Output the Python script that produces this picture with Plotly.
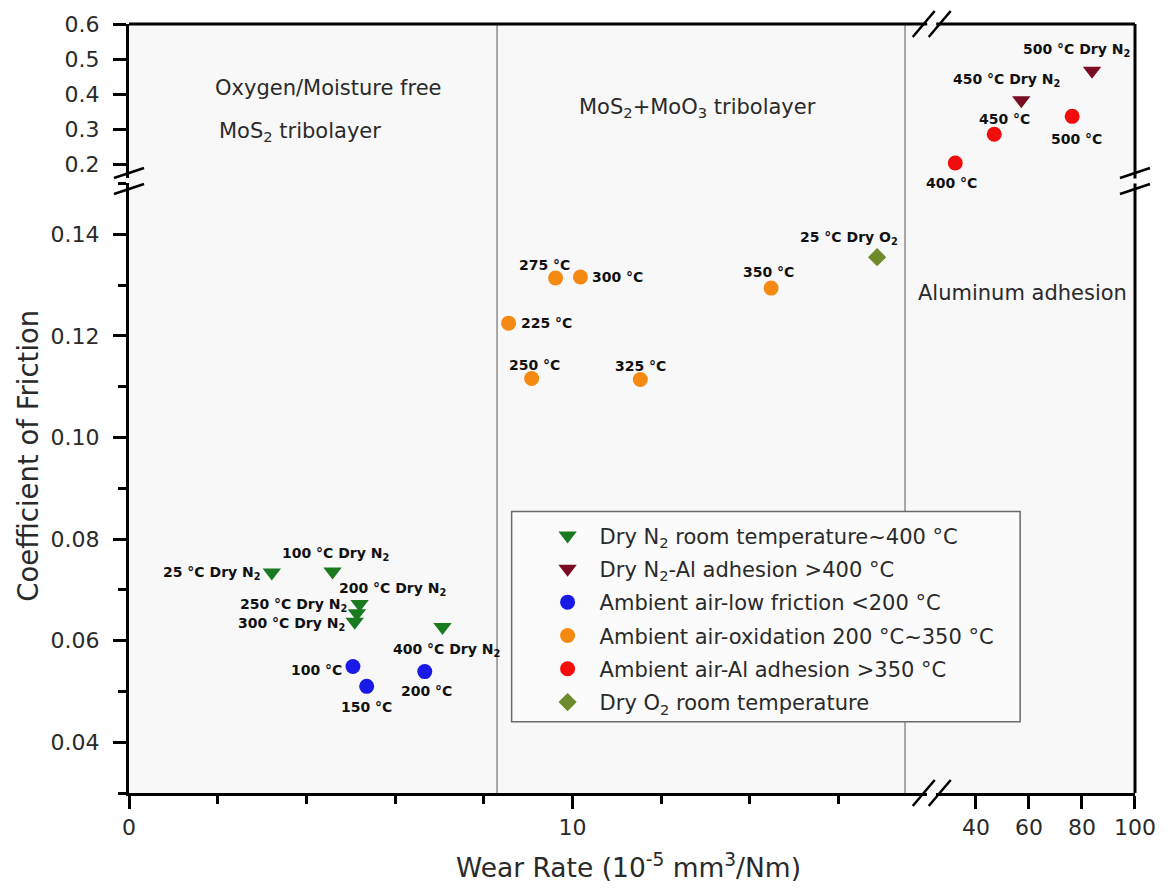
import plotly.graph_objects as go

# ---- data: wear rate (10^-5 mm^3/Nm) vs coefficient of friction ----
dry_n2_wear = [3.22, 4.59, 5.20, 5.14, 5.09, 7.07]
dry_n2_cof = [0.0734, 0.0736, 0.0672, 0.0654, 0.0637, 0.0627]
dry_n2_labels = ["25 °C Dry N<sub>2</sub>", "100 °C Dry N<sub>2</sub>", "200 °C Dry N<sub>2</sub>",
                 "250 °C Dry N<sub>2</sub>", "300 °C Dry N<sub>2</sub>", "400 °C Dry N<sub>2</sub>"]

dry_n2_al_wear = [57.1, 83.8]
dry_n2_al_cof = [0.383, 0.467]
dry_n2_al_labels = ["450 °C Dry N<sub>2</sub>", "500 °C Dry N<sub>2</sub>"]

air_low_wear = [5.05, 5.36, 6.67]
air_low_cof = [0.0549, 0.0510, 0.0539]
air_low_labels = ["100 °C", "150 °C", "200 °C"]

air_ox_wear = [8.56, 9.08, 9.62, 10.18, 11.53, 14.48]
air_ox_cof = [0.1225, 0.1116, 0.1314, 0.1316, 0.1114, 0.1294]
air_ox_labels = ["225 °C", "250 °C", "275 °C", "300 °C", "325 °C", "350 °C"]

air_al_wear = [32.2, 46.9, 76.3]
air_al_cof = [0.204, 0.286, 0.337]
air_al_labels = ["400 °C", "450 °C", "500 °C"]

dry_o2_wear = [16.87]
dry_o2_cof = [0.1355]
dry_o2_labels = ["25 °C Dry O<sub>2</sub>"]

# regime boundaries (wear rate)
regime_bounds = [8.3, 17.5]

# tick values
x_low_ticks = [0, 10]
x_low_minor = [2, 4, 6, 8, 12, 14, 16]
x_high_ticks = [40, 60, 80, 100]
y_low_ticks = [0.04, 0.06, 0.08, 0.10, 0.12, 0.14]
y_high_ticks = [0.2, 0.3, 0.4, 0.5, 0.6]

# ---- geometry of the broken-axis frame (pixels) ----
W, H = 1168, 893
L, R, T, B = 129, 1136, 22, 793.5
PW, PH = R - L, B - T


def px(x):
    return (x - L) / PW


def py(y):
    return (B - y) / PH


XL_DOM = [0, px(928)]
XR_DOM = [px(937), 1]
YL_DOM = [0, py(182)]
YU_DOM = [py(177), 1]
XBRK = (XL_DOM[1] + XR_DOM[0]) / 2
YBRK = (YL_DOM[1] + YU_DOM[0]) / 2

FONT = "DejaVu Sans, Verdana, sans-serif"
TXT = "#2a2a2a"

# label offsets (dx, dy in screen px, xanchor) per series
off_dry_n2 = [(-9, 0, "right"), (3, -18, "center"), (33, -15, "center"),
              (-8, -8, "right"), (-8, 2, "right"), (4, 23, "center")]
off_dry_n2_al = [(-15, -20, "center"), (-16, -21, "center")]
off_air_low = [(-9, 3, "right"), (0, 21, "center"), (2, 19, "center")]
off_air_ox = [(10, 0, "left"), (3, -14, "center"), (-11, -13, "center"),
              (10, 0, "left"), (0, -14, "center"), (-3, -16, "center")]
off_air_al = [(-4, 20, "center"), (10, -15, "center"), (4, 23, "center")]
off_dry_o2 = [(-28, -19, "center")]

series = [
    ("Dry N<sub>2</sub> room temperature~400 °C", dry_n2_wear, dry_n2_cof, dry_n2_labels, off_dry_n2,
     "x", "y", "triangle-down", "#1a7a1f", 16),
    ("Dry N<sub>2</sub>-Al adhesion >400 °C", dry_n2_al_wear, dry_n2_al_cof, dry_n2_al_labels, off_dry_n2_al,
     "x2", "y2", "triangle-down", "#7a0d22", 16),
    ("Ambient air-low friction <200 °C", air_low_wear, air_low_cof, air_low_labels, off_air_low,
     "x", "y", "circle", "#1a1ae6", 15),
    ("Ambient air-oxidation 200 °C~350 °C", air_ox_wear, air_ox_cof, air_ox_labels, off_air_ox,
     "x", "y", "circle", "#f58a12", 15),
    ("Ambient air-Al adhesion >350 °C", air_al_wear, air_al_cof, air_al_labels, off_air_al,
     "x2", "y2", "circle", "#f20d0d", 15),
    ("Dry O<sub>2</sub> room temperature", dry_o2_wear, dry_o2_cof, dry_o2_labels, off_dry_o2,
     "x", "y", "diamond", "#6e8a2a", 14),
]

fig = go.Figure()
annotations = []

for i, (name, xs, ys, labels, offs, xa, ya, sym, col, size) in enumerate(series):
    fig.add_trace(go.Scatter(
        x=xs, y=ys, mode="markers", name=name, xaxis=xa, yaxis=ya,
        legendgroup=f"g{i}",
        marker=dict(symbol=sym, size=size, color=col, line=dict(width=0)),
    ))
    for xv, yv, lab, (dx, dy, anc) in zip(xs, ys, labels, offs):
        annotations.append(dict(
            x=xv, y=yv, xref=xa, yref=ya, text=f"<b>{lab}</b>", showarrow=False,
            xanchor=anc, yanchor="middle", xshift=dx, yshift=-dy,
            font=dict(family=FONT, size=14, color="#111111"),
        ))

# region captions
for text, cx, cy, size in [
    ("Oxygen/Moisture free", 328, 86, 21),
    ("MoS<sub>2</sub> tribolayer", 300, 130, 21),
    ("MoS<sub>2</sub>+MoO<sub>3</sub> tribolayer", 698, 106, 21),
    ("Aluminum adhesion", 1023, 292, 21),
]:
    annotations.append(dict(x=px(cx), y=py(cy), xref="paper", yref="paper", text=text,
                            showarrow=False, xanchor="center", yanchor="middle",
                            font=dict(family=FONT, size=size, color=TXT)))

# axis titles
annotations.append(dict(x=px(27), y=py(455), xref="paper", yref="paper",
                        text="Coefficient of Friction", textangle=-90, showarrow=False,
                        xanchor="center", yanchor="middle",
                        font=dict(family=FONT, size=27.5, color=TXT)))
annotations.append(dict(x=px(629), y=py(867), xref="paper", yref="paper",
                        text="Wear Rate (10<sup>-5</sup> mm<sup>3</sup>/Nm)", showarrow=False,
                        xanchor="center", yanchor="middle",
                        font=dict(family=FONT, size=26.5, color=TXT)))

shapes = []
# frame background
shapes.append(dict(type="rect", xref="paper", yref="paper", x0=0, x1=1, y0=0, y1=1,
                   fillcolor="#f8f8f8", line=dict(width=0), layer="below"))
# regime separators
for xb in regime_bounds:
    shapes.append(dict(type="line", xref="x", yref="paper", x0=xb, x1=xb, y0=0, y1=1,
                       line=dict(color="#8c8c8c", width=1.5), layer="below"))
# legend box
shapes.append(dict(type="rect", xref="paper", yref="paper", x0=px(512), x1=px(1021),
                   y0=py(722), y1=py(511), fillcolor="#fbfbfb",
                   line=dict(color="#6a6a6a", width=1.5), layer="below"))
# top and right frame lines (broken)
FR = dict(color="black", width=3)
shapes += [
    dict(type="line", xref="paper", yref="paper", x0=0, x1=XL_DOM[1], y0=1, y1=1, line=FR),
    dict(type="line", xref="paper", yref="paper", x0=XR_DOM[0], x1=1, y0=1, y1=1, line=FR),
    dict(type="line", xref="paper", yref="paper", x0=1, x1=1, y0=0, y1=YL_DOM[1], line=FR),
    dict(type="line", xref="paper", yref="paper", x0=1, x1=1, y0=YU_DOM[0], y1=1, line=FR),
]
# break marks "//"
BRK = dict(color="black", width=2.5)
for yb in (0, 1):
    for d in (-8, 8):
        shapes.append(dict(type="line", xref="paper", yref="paper",
                           xsizemode="pixel", ysizemode="pixel", xanchor=XBRK, yanchor=yb,
                           x0=d - 11, x1=d + 11, y0=-13, y1=13, line=BRK))
for xb in (0, 1):
    for d in (-8, 8):
        shapes.append(dict(type="line", xref="paper", yref="paper",
                           xsizemode="pixel", ysizemode="pixel", xanchor=xb, yanchor=YBRK,
                           x0=-15, x1=15, y0=d - 5, y1=d + 5, line=BRK))

AX = dict(showline=True, linecolor="black", linewidth=3, ticks="outside", ticklen=13,
          tickwidth=2.5, tickcolor="black", showgrid=False, zeroline=False,
          tickfont=dict(family=FONT, size=22, color=TXT), fixedrange=True)
YAX = dict(AX, ticklabelstandoff=9)

fig.update_layout(
    width=W, height=H, autosize=False,
    margin=dict(l=L, r=W - R, t=T, b=H - B),
    paper_bgcolor="white", plot_bgcolor="rgba(0,0,0,0)",
    xaxis=dict(AX, domain=XL_DOM, range=[0, 18], anchor="y", tickvals=x_low_ticks,
               minor=dict(tickvals=x_low_minor, ticklen=8, tickwidth=2.5, tickcolor="black", ticks="outside")),
    xaxis2=dict(AX, domain=XR_DOM, range=[25, 100], anchor="y", tickvals=x_high_ticks),
    yaxis=dict(YAX, domain=YL_DOM, range=[0.03, 0.15], anchor="x", tickvals=y_low_ticks,
               tickformat=".2f",
               minor=dict(dtick=0.01, tick0=0.03, ticklen=8, tickwidth=2.5, tickcolor="black", ticks="outside")),
    yaxis2=dict(YAX, domain=YU_DOM, range=[0.16, 0.6], anchor="x", tickvals=y_high_ticks,
                tickformat=".1f"),
    showlegend=True,
    legend=dict(x=px(536), y=py(515), xanchor="left", yanchor="top",
                bgcolor="rgba(0,0,0,0)", borderwidth=0, traceorder="grouped",
                tracegroupgap=3, itemclick=False, itemwidth=54,
                font=dict(family=FONT, size=21, color=TXT)),
    annotations=annotations,
    shapes=shapes,
)

fig.write_html("out.html")
